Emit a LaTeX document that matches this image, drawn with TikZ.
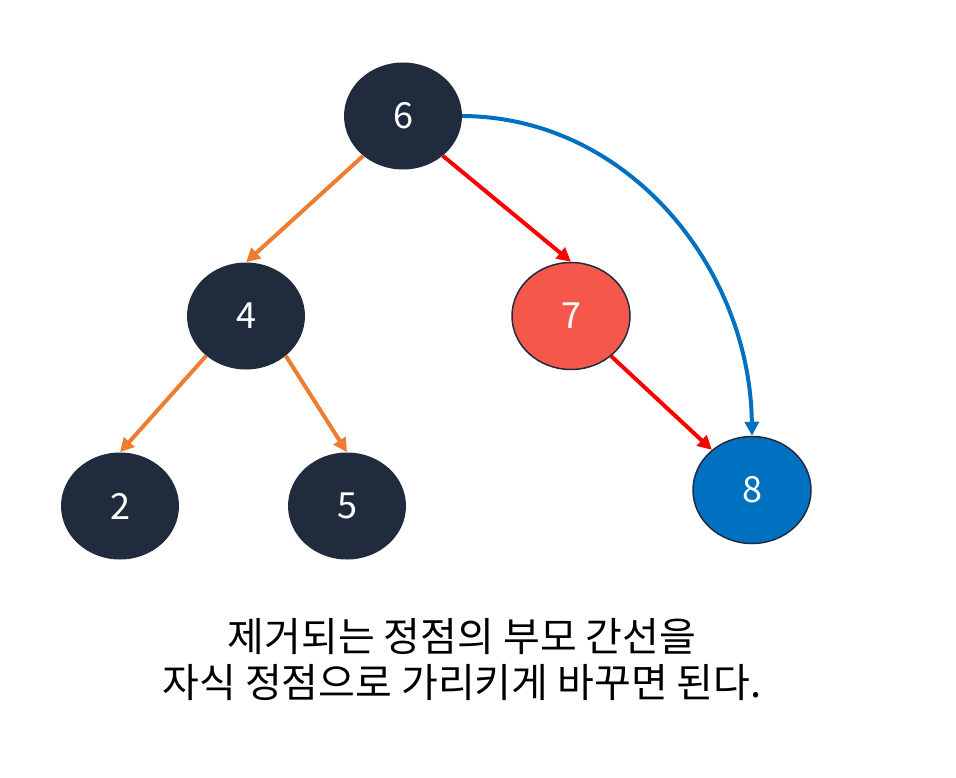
\documentclass[tikz,border=0pt]{standalone}
\usepackage{fontspec}
\setmainfont{Noto Sans CJK KR}
\usetikzlibrary{shapes.geometric,arrows.meta}
\definecolor{navy}{HTML}{212B3E}
\definecolor{redfill}{HTML}{F5584A}
\definecolor{bluefill}{HTML}{0070C0}
\definecolor{orangeline}{HTML}{ED7D31}
\definecolor{redline}{HTML}{FF0000}
\tikzset{
  vert/.style={ellipse, minimum width=118pt, minimum height=107pt, inner sep=0pt, text=white, font=\fontsize{36}{40}\selectfont},
  darkv/.style={vert, fill=navy},
  redv/.style={vert, fill=redfill, draw=navy, line width=1.5pt},
  bluev/.style={vert, fill=bluefill, draw=navy, line width=1.5pt},
  edge/.style={line width=4pt, -{Triangle[length=14pt,width=14pt]}},
}
\begin{document}
\begin{tikzpicture}[x=1pt,y=-1pt]
\useasboundingbox (0,0) rectangle (956,777);
\node[darkv] (n6) at (403,116) {6};
\node[darkv] (n4) at (246,316) {4};
\node[redv] (n7) at (571,316) {7};
\node[darkv] (n2) at (120,506) {2};
\node[darkv] (n5) at (347,506) {5};
\node[bluev] (n8) at (752,490) {8};
\draw[edge, orangeline] (n6.225) -- (n4.north);
\draw[edge, orangeline] (n4.225) -- (n2.north);
\draw[edge, orangeline] (n4.315) -- (n5.north);
\draw[edge, redline] (n6.315) -- (n7.north);
\draw[edge, redline] (n7.315) -- (n8.135);
\draw[edge, bluefill] (n6.east) .. controls (630,117) and (750,270) .. (n8.north);
\node[font=\fontsize{40}{46}\selectfont, align=center] (cap) at (462,660) {제거되는 정점의 부모 간선을\\자식 정점으로 가리키게 바꾸면 된다.};
\end{tikzpicture}
\end{document}
